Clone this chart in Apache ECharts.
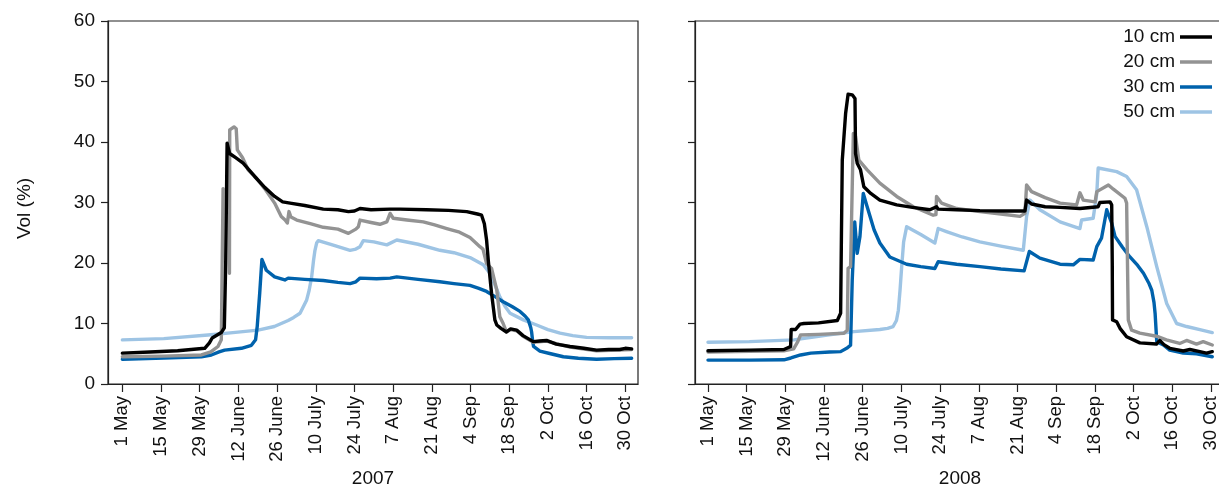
<!DOCTYPE html>
<html>
<head>
<meta charset="utf-8">
<script src="https://cdn.jsdelivr.net/npm/echarts@6/dist/echarts.min.js"></script>
<style>
  html, body { margin: 0; padding: 0; background: #fff; }
  #chart { width: 1219px; height: 484px; }
</style>
</head>
<body>
<div id="chart"></div>
<script>
// Days after 1 May for the date ticks, and their labels
const dayTicks = [0, 14, 28, 42, 56, 70, 84, 98, 112, 126, 140, 154, 168, 182];
const tickLabels = ['1 May', '15 May', '29 May', '12 June', '26 June', '10 July', '24 July',
  '7 Aug', '21 Aug', '4 Sep', '18 Sep', '2 Oct', '16 Oct', '30 Oct'];
const years = ['2007', '2008'];
const depths = ['10 cm', '20 cm', '30 cm', '50 cm'];
const depthColors = ['#000000', '#939393', '#0062ac', '#9ec4e4'];

// Volumetric water content, [day after 1 May, Vol %]; null marks a gap in the record
const vol2007_10 = [[0,5.1],[10,5.3],[20,5.5],[29.8,5.9],[31.5,6.8],[32.5,7.6],[35.8,8.5],[36.9,9.3],[37.4,20],[37.9,39.8],[38.2,39.8],[38.8,38.1],[41,37.4],[43.7,36.5],[47.9,34.3],[51.5,32.5],[55.1,31.0],[58,30.1],[60.7,29.9],[66,29.5],[72.7,28.9],[78,28.8],[81.8,28.5],[84,28.6],[86,29.0],[90,28.8],[96.9,28.9],[100.5,28.9],[110,28.8],[118,28.7],[124.6,28.5],[128.5,28.1],[130,27.9],[131,26.5],[131.8,23.8],[132.4,20.5],[133.6,15.0],[134.3,15.3],[134.8,10.6],[135.5,9.75],[137,9.2],[139,8.6],[140.5,9.1],[142.7,8.9],[145,8.0],[148.7,7.0],[151,7.1],[153.5,7.2],[157,6.6],[162,6.2],[167,5.9],[171.6,5.6],[176,5.7],[180,5.7],[182,5.9],[184.3,5.8]];
const vol2007_20 = [[0,4.5],[15,4.6],[28.6,4.8],[32,5.3],[34.6,6.2],[35.8,7.3],[36.3,7.5],[36.45,32.3],[37.6,null],[38.75,18.3],[38.85,42.0],[40.4,42.5],[41.2,42.2],[41.6,38.7],[43.5,37.4],[45.5,35.4],[48.5,34.0],[51.5,32.3],[55.1,29.9],[57.5,27.7],[58.9,27.1],[59.7,26.6],[60.3,28.5],[61,27.6],[63.1,27.1],[68,26.5],[72.7,25.9],[78,25.6],[81.8,24.9],[84.5,25.6],[85.4,26.0],[86,27.1],[90,26.7],[93.2,26.4],[95.7,26.8],[96.9,28.2],[98,27.4],[103,27.1],[108.9,26.8],[113,26.3],[117.4,25.7],[122,25.1],[125.8,24.2],[129.4,22.7],[130.5,22.3],[131.8,19.9],[133.6,19.1],[135.5,15.5],[136.6,11.1],[137.8,10.0],[139,8.6],[140.5,9.0],[142.7,8.8],[145,7.9],[148.7,6.9],[153.5,7.1],[162,6.1],[171.6,5.5],[184.3,5.7]];
const vol2007_30 = [[0,4.1],[15,4.3],[28.6,4.5],[32.2,4.8],[35,5.3],[37,5.6],[43.1,5.9],[46.7,6.4],[48.2,7.3],[48.8,9.5],[49.7,15.0],[50.5,20.6],[52.1,18.8],[55.1,17.7],[58.8,17.2],[60,17.5],[60.7,17.5],[66,17.3],[72.7,17.1],[78,16.8],[82.4,16.6],[84.5,16.9],[86,17.5],[92,17.4],[96.9,17.5],[99.3,17.7],[107,17.3],[114.9,16.9],[120,16.6],[125.8,16.3],[129,15.8],[131.8,15.3],[135,14.4],[137.8,13.6],[141,12.8],[143.9,12.0],[145.8,11.2],[146.9,10.6],[147.8,9.3],[148.1,8.6],[148.5,7.0],[148.8,6.2],[151.1,5.45],[155,5.0],[159.6,4.5],[165,4.25],[171.6,4.1],[178,4.2],[184.3,4.25]];
const vol2007_50 = [[0,7.3],[15,7.5],[31,8.1],[40,8.5],[49.1,8.9],[55,9.5],[60,10.5],[62,11.0],[64.3,11.7],[66.7,13.9],[67.6,15.5],[68.5,17.7],[69.2,20.5],[69.7,22.1],[70.3,23.3],[70.9,23.7],[76,23.0],[82.4,22.1],[84.5,22.3],[86,22.7],[87.2,23.7],[91,23.5],[95.7,23.0],[99.3,23.8],[107,23.1],[114.9,22.1],[120,21.7],[125.8,20.9],[130.6,19.7],[133,18.3],[135,16.2],[136.6,14.4],[138.5,12.8],[140.3,11.7],[145.1,10.6],[149.9,9.75],[154,9.0],[158.4,8.4],[163,8.0],[168,7.7],[176,7.65],[184.3,7.65]];

const vol2008_10 = [[0,5.5],[15,5.6],[27.5,5.7],[29.9,6.2],[30.1,9.0],[31.7,9.0],[33.3,9.9],[34.7,10.0],[40,10.1],[46.8,10.5],[48.0,11.7],[48.3,25],[48.6,37.0],[49.8,44.7],[50.7,47.9],[52.2,47.8],[53.2,47.2],[53.4,38.1],[54,36.5],[55.2,35.4],[56.4,32.6],[58.9,31.5],[62.2,30.4],[68.3,29.6],[74,29.2],[80.3,28.8],[82.7,29.3],[83.3,28.9],[90,28.8],[98.4,28.65],[107,28.6],[114.7,28.6],[115.3,30.4],[117.1,29.75],[122,29.3],[127.4,29.2],[134.6,29.0],[141.2,29.3],[141.8,30.0],[145.5,30.1],[146.1,29.6],[146.3,20],[146.4,10.6],[147.9,10.3],[149.1,9.2],[151.5,7.8],[156.3,6.8],[162.3,6.6],[163.5,7.2],[165,6.5],[167.1,5.9],[172,5.45],[174.4,5.7],[178,5.35],[180.4,5.1],[182.5,5.35]];
const vol2008_20 = [[0,5.3],[15,5.4],[27.5,5.5],[31,5.8],[32.5,7.0],[33.5,8.1],[40,8.2],[49.2,8.4],[50.4,8.9],[50.7,19.1],[51.6,19.4],[52.6,41.4],[53.4,40.9],[54.6,37.0],[57.6,35.4],[62.2,33.2],[68.3,31.0],[74.3,29.3],[81.5,27.9],[82.5,28.0],[82.7,31.0],[84.5,29.9],[90,29.0],[98.4,28.5],[106,28.1],[112.9,27.7],[114.7,28.2],[115.3,32.9],[117.1,31.8],[122,30.8],[127.4,29.9],[133.4,29.6],[134.6,31.6],[135.8,30.4],[140.1,30.1],[140.7,31.8],[144.9,32.9],[146.7,32.2],[150.9,30.7],[151.5,29.9],[152.1,10.6],[153.3,8.9],[156.3,8.4],[162.3,7.9],[165.9,7.3],[170.7,6.7],[173.2,7.2],[176.8,6.6],[179.2,7.0],[182.5,6.45]];
const vol2008_30 = [[0,3.95],[15,3.95],[27.5,4.0],[30,4.3],[33.5,4.8],[37.2,5.1],[44,5.3],[48.0,5.35],[50.5,6.0],[51.6,6.4],[52.2,17.2],[53.1,26.8],[54.0,21.6],[55.0,24.4],[56.2,31.5],[57.6,29.3],[60.1,25.5],[62.2,23.3],[65.8,21.0],[71.9,19.8],[77,19.4],[82.1,19.1],[83.3,20.2],[90,19.8],[98.4,19.4],[106,19.0],[114.4,18.7],[116.3,21.9],[120.1,20.8],[127.4,19.8],[132.2,19.7],[134.6,20.6],[139.4,20.5],[140.7,22.7],[142.4,24.1],[144.3,28.8],[144.9,29.0],[146.1,26.6],[147.3,24.4],[150,22.6],[152.7,21.0],[155.5,19.6],[157.6,18.3],[159.5,16.7],[160.6,15.5],[161.4,13.5],[161.8,11.7],[162.4,7.0],[164.8,6.45],[167.1,5.6],[172,5.1],[176.8,5.0],[182.5,4.5]];
const vol2008_50 = [[0,6.9],[15,7.0],[31.1,7.3],[43.2,8.1],[52.8,8.65],[62.2,9.0],[65,9.2],[67,9.5],[68.2,10.5],[68.9,12.2],[69.5,15.5],[70.1,19.4],[70.8,23.5],[71.9,26.0],[77,24.7],[82.1,23.3],[83.3,25.7],[86.3,25.2],[92,24.3],[98.4,23.5],[106,22.8],[114.1,22.1],[115.3,27.7],[116.5,30.4],[120.1,28.8],[127.4,26.8],[134.6,25.7],[135.2,27.1],[139.4,27.4],[140.7,31.5],[141.2,35.7],[147.9,35.1],[151.5,34.3],[155.1,32.1],[158.8,26.0],[162.4,19.4],[166.0,13.3],[169.6,10.0],[173.2,9.5],[178,9.0],[182.5,8.5]];

const seriesByYear = [
  [vol2007_10, vol2007_20, vol2007_30, vol2007_50],
  [vol2008_10, vol2008_20, vol2008_30, vol2008_50]
];

const FONT = "'Liberation Sans', Arial, Helvetica, sans-serif";
const AXIS_COLOR = '#222';

const chart = echarts.init(document.getElementById('chart'), null, { renderer: 'canvas' });

const panels = [
  { left: 108, min: -5.2, max: 186.6 },
  { left: 695, min: -4.7, max: 187.1 }
];

// Fixed plot boxes; the 2008 box runs past the right edge of the canvas
const grids = panels.map(p => ({
  left: p.left, top: 21, width: 530, height: 363,
  outerBoundsMode: 'none', containLabel: false,
  show: true, borderColor: AXIS_COLOR, borderWidth: 1.2, backgroundColor: 'transparent'
}));

const xAxes = panels.map((p, i) => ({
  type: 'value', gridIndex: i, min: p.min, max: p.max,
  name: years[i], nameLocation: 'middle', nameGap: 79,
  nameTextStyle: { fontFamily: FONT, fontSize: 19, color: '#111' },
  axisLine: { show: true, onZero: false, lineStyle: { color: AXIS_COLOR, width: 1.2 } },
  axisTick: { show: true, inside: false, length: 8, customValues: dayTicks,
    lineStyle: { color: AXIS_COLOR, width: 1.2 } },
  axisLabel: { show: true, rotate: 90, margin: 12, customValues: dayTicks,
    fontFamily: FONT, fontSize: 18.5, color: '#111',
    formatter: v => { const k = dayTicks.indexOf(Math.round(v)); return k >= 0 ? tickLabels[k] : ''; } },
  splitLine: { show: false }
}));

const yAxes = panels.map((p, i) => ({
  type: 'value', gridIndex: i, min: 0, max: 60, interval: 10,
  name: i === 0 ? 'Vol (%)' : '', nameLocation: 'middle', nameGap: 74, nameRotate: 90,
  nameTextStyle: { fontFamily: FONT, fontSize: 19, color: '#111', padding: [0, 12, 0, 0] },
  axisLine: { show: true, onZero: false, lineStyle: { color: AXIS_COLOR, width: 1.2 } },
  axisTick: { show: true, inside: false, length: 7, lineStyle: { color: AXIS_COLOR, width: 1.2 } },
  axisLabel: { show: i === 0, margin: 13, fontFamily: FONT, fontSize: 19, color: '#111' },
  splitLine: { show: false }
}));

// Deepest sensor first so the shallow ones are drawn on top
const series = [];
[0, 1].forEach(yi => {
  [3, 2, 1, 0].forEach(di => {
    series.push({
      name: depths[di], type: 'line', xAxisIndex: yi, yAxisIndex: yi,
      data: seriesByYear[yi][di], symbol: 'none', showSymbol: false,
      connectNulls: false, smooth: false,
      lineStyle: { color: depthColors[di], width: 3.4, join: 'round', cap: 'round' },
      itemStyle: { color: depthColors[di] },
      emphasis: { disabled: true }, silent: true
    });
  });
});

chart.setOption({
  animation: false,
  backgroundColor: '#ffffff',
  grid: grids,
  xAxis: xAxes,
  yAxis: yAxes,
  legend: {
    data: depths, orient: 'vertical', align: 'right', padding: 0,
    right: 7, top: 27.5, icon: 'rect', itemWidth: 32, itemHeight: 3.5, itemGap: 6,
    textStyle: { fontFamily: FONT, fontSize: 19, color: '#111', lineHeight: 19 },
    selectedMode: false
  },
  series: series
});
</script>
</body>
</html>
